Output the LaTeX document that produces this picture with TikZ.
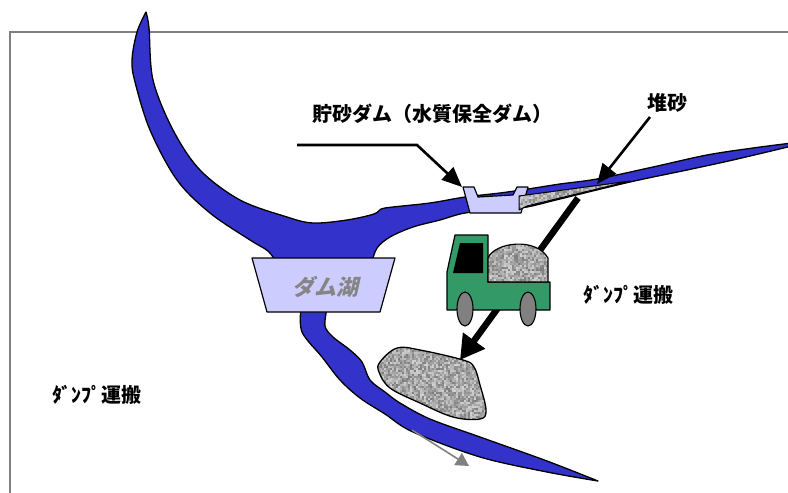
\documentclass[tikz,border=0pt]{standalone}
\usepackage{fontspec}
\newfontfamily\jpfont{Noto Sans CJK JP}
\newfontfamily\jpslant[FakeSlant=0.22]{Noto Sans CJK JP}
\usetikzlibrary{positioning,arrows.meta}
\definecolor{river}{HTML}{3333CC}
\definecolor{damfill}{HTML}{CCCCFF}
\definecolor{truckgreen}{HTML}{339966}
\definecolor{wheelgray}{HTML}{808080}
\tikzset{
  water/.style={fill=river,draw=black,line width=1.3pt,line join=round},
  dambody/.style={fill=damfill,draw=black,line width=1.2pt,line join=round},
  jplabel/.style={font=\jpfont\bfseries\fontsize{20}{24}\selectfont,inner sep=0pt},
  lakelabel/.style={font=\jpslant\bfseries\fontsize{22}{26}\selectfont,text=black!48,inner sep=0pt},
  callout/.style={draw=black,line width=2.6pt,-{Triangle[length=20pt,width=17pt]}},
  haul/.style={draw=black,line width=6.5pt,-{Triangle[length=24pt,width=26pt]}}
}
% gravel texture: start x, start y, cells across, cells down
\newcommand{\gravel}[4]{%
  \foreach \i in {0,...,#3}{
    \foreach \j in {0,...,#4}{
      \pgfmathtruncatemacro{\shade}{18+34*rnd}
      \fill[black!\shade!white] ({#1+2*\i},{#2+2*\j}) rectangle ++(2,2);
    }}}

\begin{document}
\begin{tikzpicture}[x=1pt,y=-1pt]
  \useasboundingbox (0,0) rectangle (788,493);
  \pgfmathsetseed{11}

  % frame
  \draw[wheelgray,line width=2.4pt] (10,493) -- (10,32) -- (788,32);

  % main river with the upstream branch
  \path[water] plot[smooth,tension=0.55] coordinates {(146,12) (149,28) (153,80) (173,130)
      (200,170) (240,200) (287,217) (313,223) (347,220) (374,214) (381,209) (393,207)
      (430,203) (465,197) (500,193) (528,189) (560,184) (597,179) (653,167) (707,155)
      (753,148) (792,143)}
    -- plot[smooth,tension=0.55] coordinates {(792,146) (733,160) (687,170) (630,182)
      (560,199) (527,207) (500,210) (465,213) (440,220) (413,227) (390,237) (377,248) (372,262)}
    -- (276,262)
    -- plot[smooth,tension=0.55] coordinates {(276,262) (268,251) (250,240) (210,213)
      (177,180) (150,130) (135,82) (132,60) (137,32) (146,12)}
    -- cycle;

  % outlet below the lake
  \path[water] plot[smooth,tension=0.55] coordinates {(301,308) (302,332) (322,357)
      (340,380) (360,398) (385,414) (413,432) (480,457) (547,472) (598,481)}
    -- plot[smooth,tension=0.55] coordinates {(598,481) (547,461) (480,437) (430,419)
      (400,403) (385,392) (370,380) (362,362) (350,350) (333,337) (325,326) (327,308)}
    -- cycle;

  % lake dam
  \path[dambody] (252,258) -- (395,258) -- (380,312) -- (267,312) -- cycle;
  \node[lakelabel] (lake) at (325,287) {ダム湖};

  % check dam
  \path[dambody] (463,187) -- (474,187) -- (478,197) -- (513,195) -- (517,187)
    -- (528,187) -- (521,213) -- (470,213) -- cycle;

  % deposited sediment
  \begin{scope}
    \clip (519,196) -- (630,181) -- (527,206) -- (519,210) -- cycle;
    \gravel{517}{179}{57}{17}
  \end{scope}
  \draw[line width=1pt,line join=round] (519,196) -- (630,181) -- (527,206) -- (519,210) -- cycle;

  % excavated pile
  \def\pile{plot[smooth cycle,tension=0.6] coordinates {(380,362) (397,348) (420,350)
      (463,360) (474,367) (480,385) (486,410) (480,419) (453,417) (420,403) (390,388) (379,372)}}
  \begin{scope}
    \clip \pile;
    \gravel{376}{344}{56}{40}
  \end{scope}
  \draw[line width=1.3pt] \pile;

  % haul route
  \coordinate (haulstart) at (578,198);
  \coordinate (haulend) at (460,360);
  \draw[haul] (haulstart) -- (haulend);

  % dump truck
  \path[fill=truckgreen,draw=black,line width=1.2pt,line join=round]
    (455,235) -- (488,235) -- (488,282) -- (550,282) -- (550,310) -- (447,310) -- (447,272) -- cycle;
  \fill (460,243) -- (483,243) -- (483,273) -- (453,273) -- cycle;
  \def\load{(488,282) -- (488,258) .. controls (495,242) and (536,237) .. (548,258) -- (548,282) -- cycle}
  \begin{scope}
    \clip \load;
    \gravel{486}{237}{32}{23}
  \end{scope}
  \draw[line width=1.2pt] \load;
  \path[fill=wheelgray,draw=black,line width=1.1pt] (465,309) ellipse [x radius=8,y radius=17];
  \path[fill=wheelgray,draw=black,line width=1.1pt] (528,309) ellipse [x radius=8,y radius=17];

  % flow towards downstream
  \coordinate (flowstart) at (412,430);
  \coordinate (flowend) at (469,466);
  \draw[wheelgray,line width=1.6pt,-{Triangle[length=13pt,width=14pt]}] (flowstart) -- (flowend);

  % labels and callouts
  \node[jplabel] (damlabel) at (432,114) {貯砂ダム（水質保全ダム）};
  \node[jplabel] (sedlabel) at (667,103) {堆砂};
  \node[jplabel] (dumpright) at (628,295) {ﾀﾞﾝﾌﾟ運搬};
  \node[jplabel] (dumpleft) at (97,395) {ﾀﾞﾝﾌﾟ運搬};

  \coordinate (calloutstart) at (297,145);
  \coordinate (calloutbend) at (417,145);
  \coordinate (damlip) at (462,187);
  \draw[callout] (calloutstart) -- (calloutbend) -- (damlip);

  \coordinate (sedstart) at (650,117);
  \coordinate (sedtip) at (597,184);
  \draw[callout] (sedstart) -- (sedtip);
\end{tikzpicture}
\end{document}
